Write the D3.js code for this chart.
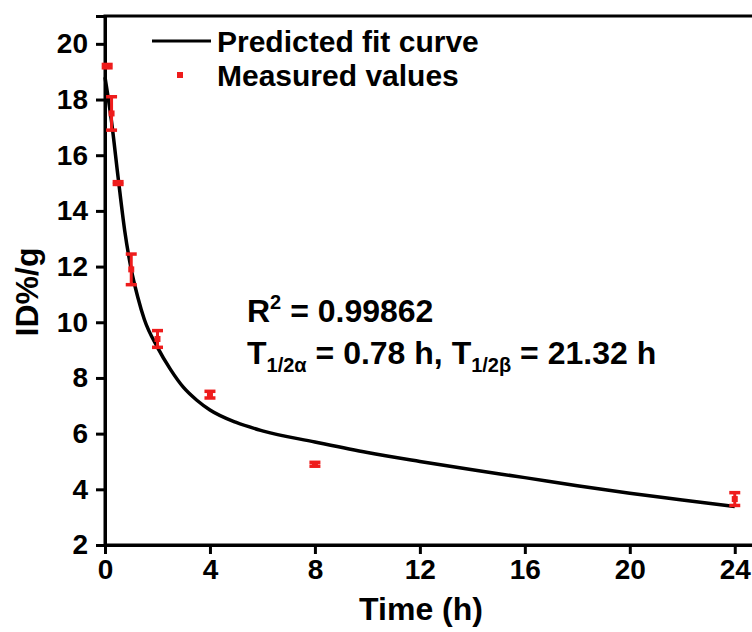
<!DOCTYPE html>
<html><head><meta charset="utf-8">
<script src="https://cdn.jsdelivr.net/npm/d3@7"></script>
<style>body{margin:0;background:#fff}svg{display:block}text{font-family:"Liberation Sans",Arial,sans-serif;font-weight:bold}</style>
</head><body>
<script>
// Measured values
const times = [0.083, 0.25, 0.5, 1, 2, 4, 8, 24];
const means = [19.2, 17.5, 15.0, 11.9, 9.4, 7.4, 4.9, 3.65];
const errors = [0.06, 0.6, 0.05, 0.55, 0.3, 0.12, 0.07, 0.23];
// Predicted fit curve
const fitTimes = [0, 0.1, 0.25, 0.5, 0.75, 1, 1.25, 1.5, 2, 2.5, 3, 3.5, 4, 5, 6, 8, 10, 12, 14, 16, 18, 20, 22, 24];
const fitValues = [18.8, 18.2, 17.2, 15.2, 13.3, 11.9, 10.9, 10.1, 9.1, 8.3, 7.65, 7.2, 6.85, 6.4, 6.1, 5.7, 5.32, 5.0, 4.7, 4.42, 4.13, 3.86, 3.62, 3.38];
const xTicks = [0, 4, 8, 12, 16, 20, 24];
const yTicks = [2, 4, 6, 8, 10, 12, 14, 16, 18, 20];

const W = 752, H = 632;
const svg = d3.select("body").append("svg").attr("width", W).attr("height", H);
const x = d3.scaleLinear().domain([0, 25]).range([105, 761]);
const y = d3.scaleLinear().domain([2, 21]).range([545, 16]);
const red = "#ee1c1c";

// frame
svg.append("rect").attr("x", 105).attr("y", 16).attr("width", 700).attr("height", 545 - 16)
  .attr("fill", "none").attr("stroke", "#000").attr("stroke-width", 3);

const xAxis = svg.append("g").attr("transform", "translate(0,545)")
  .call(d3.axisBottom(x).tickValues(xTicks).tickSize(9).tickPadding(5).tickFormat(d3.format("d")));
const yAxis = svg.append("g").attr("transform", "translate(105,0)")
  .call(d3.axisLeft(y).tickValues(yTicks).tickSize(9).tickPadding(8).tickFormat(d3.format("d")));
[xAxis, yAxis].forEach(g => {
  g.select(".domain").attr("stroke-width", 3);
  g.selectAll(".tick line").attr("stroke-width", 3);
  g.selectAll(".tick text").attr("font-size", 28).attr("font-family", "Liberation Sans, Arial, sans-serif")
    .attr("font-weight", "bold").attr("fill", "#000");
});

// fit curve
const pts = fitTimes.map((t, i) => [t, fitValues[i]]);
svg.append("path").datum(pts)
  .attr("d", d3.line().x(d => x(d[0])).y(d => y(d[1])).curve(d3.curveMonotoneX))
  .attr("fill", "none").attr("stroke", "#000").attr("stroke-width", 3.5);

// error bars + markers
const data = times.map((t, i) => ({t, m: means[i], e: errors[i]}));
const g = svg.append("g");
data.forEach(d => {
  const cx = x(d.t);
  g.append("line").attr("x1", cx).attr("x2", cx).attr("y1", y(d.m + d.e)).attr("y2", y(d.m - d.e))
    .attr("stroke", red).attr("stroke-width", 3);
  [d.m + d.e, d.m - d.e].forEach(v => {
    g.append("line").attr("x1", cx - 5.5).attr("x2", cx + 5.5).attr("y1", y(v)).attr("y2", y(v))
      .attr("stroke", red).attr("stroke-width", 3.5);
  });
  g.append("rect").attr("x", cx - 3).attr("y", y(d.m) - 3).attr("width", 6).attr("height", 6).attr("fill", red);
});

// legend
svg.append("line").attr("x1", 152).attr("x2", 211).attr("y1", 41).attr("y2", 41).attr("stroke", "#000").attr("stroke-width", 3);
svg.append("text").attr("x", 217).attr("y", 52).attr("font-size", 30).text("Predicted fit curve");
svg.append("rect").attr("x", 177).attr("y", 72).attr("width", 6).attr("height", 6).attr("fill", red);
svg.append("text").attr("x", 217).attr("y", 86).attr("font-size", 30).text("Measured values");

// annotation
const a1 = svg.append("text").attr("x", 247).attr("y", 322).attr("font-size", 32);
a1.append("tspan").text("R");
a1.append("tspan").attr("font-size", 20).attr("dy", -13).text("2");
a1.append("tspan").attr("dy", 13).text(" = 0.99862");
const a2 = svg.append("text").attr("x", 247).attr("y", 364).attr("font-size", 32);
a2.append("tspan").text("T");
a2.append("tspan").attr("font-size", 20).attr("dy", 8).text("1/2α");
a2.append("tspan").attr("dy", -8).text(" = 0.78 h, T");
a2.append("tspan").attr("font-size", 20).attr("dy", 8).text("1/2β");
a2.append("tspan").attr("dy", -8).text(" = 21.32 h");

// axis titles
svg.append("text").attr("x", 421).attr("y", 620).attr("text-anchor", "middle").attr("font-size", 32).text("Time (h)");
svg.append("text").attr("transform", "translate(38,292) rotate(-90)").attr("text-anchor", "middle").attr("font-size", 32).text("ID%/g");
</script>
</body></html>
